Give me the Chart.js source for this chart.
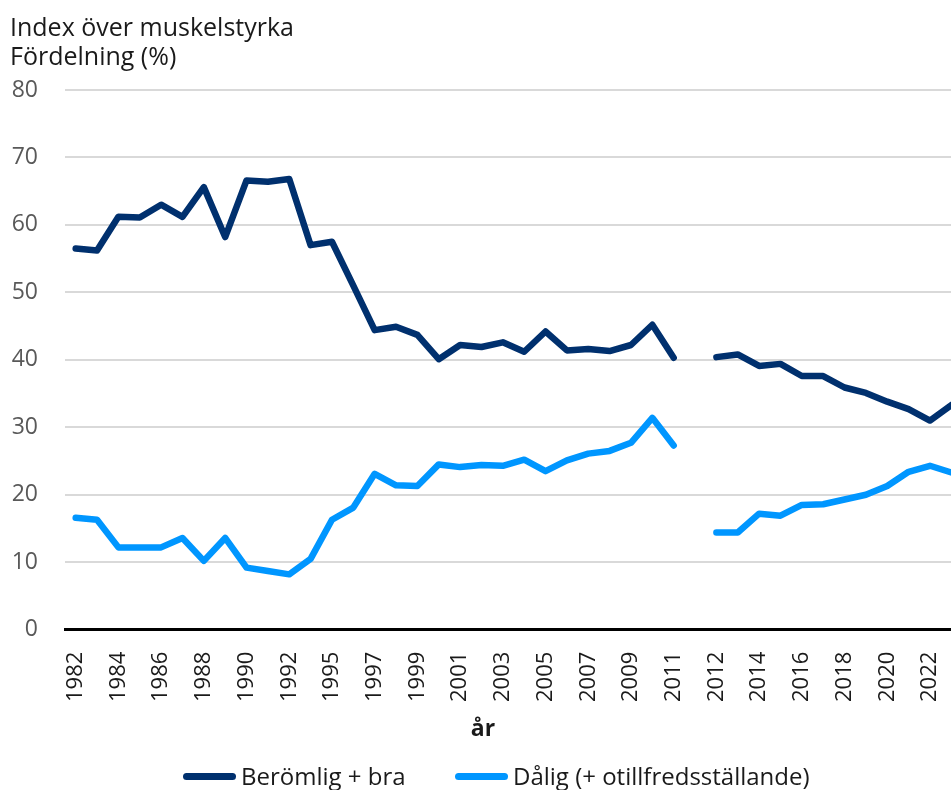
<!DOCTYPE html>
<html>
<head>
<meta charset="utf-8">
<script src="https://cdn.jsdelivr.net/npm/chart.js@4"></script>
<style>
  html, body { margin: 0; padding: 0; width: 951px; height: 790px; overflow: hidden; background: #fff; }
  body { font-family: "Open Sans", sans-serif; position: relative; }
  .title { position: absolute; left: 10px; top: 12px; font-size: 25px; line-height: 29px; color: #1a1a1a; }
  .chart-box { position: absolute; left: 0; top: 0; width: 962px; height: 790px; }
  .x-title { position: absolute; left: 0; width: 966px; top: 711px; text-align: center; font-size: 23px; font-weight: bold; color: #1a1a1a; }
  .legend-item { position: absolute; top: 759px; font-size: 24px; color: #1a1a1a; white-space: nowrap; }
  .swatch { display: inline-block; width: 53px; height: 7px; border-radius: 4px; vertical-align: middle; margin-right: 5px; position: relative; top: -2px; }
</style>
</head>
<body>
<div class="chart-box"><canvas id="lineChart"></canvas></div>
<div class="title">Index över muskelstyrka<br>Fördelning (%)</div>
<div class="x-title">år</div>
<div class="legend-item" style="left:183px"><span class="swatch" style="background:#00306E"></span>Berömlig + bra</div>
<div class="legend-item" style="left:455px"><span class="swatch" style="background:#0096FF"></span>Dålig (+ otillfredsställande)</div>
<script>
// years; the empty label is the break between the two survey series
const years = ['1982', '1983', '1984', '1985', '1986', '1987', '1988', '1989', '1990', '1991', '1992', '1994',
    '1995', '1996', '1997', '1998', '1999', '2000', '2001', '2002', '2003', '2004', '2005', '2006', '2007',
    '2008', '2009', '2010', '2011', '', '2012', '2013', '2014', '2015', '2016', '2017', '2018', '2019',
    '2020', '2021', '2022', '2023'];

const goodValues = [56.5, 56.2, 61.2, 61.1, 63.0, 61.2, 65.6, 58.2, 66.6, 66.4, 66.8, 57.0,
    57.5, 51.0, 44.4, 44.9, 43.7, 40.1, 42.2, 41.9, 42.6, 41.2, 44.2, 41.4, 41.6,
    41.3, 42.2, 45.2, 40.3, null, 40.4, 40.8, 39.1, 39.4, 37.6, 37.6, 35.9, 35.1,
    33.8, 32.7, 31.0, 33.3];

const poorValues = [16.6, 16.3, 12.2, 12.2, 12.2, 13.6, 10.2, 13.6, 9.2, 8.7, 8.2, 10.5,
    16.3, 18.1, 23.1, 21.4, 21.3, 24.5, 24.1, 24.4, 24.3, 25.2, 23.5, 25.1, 26.1,
    26.5, 27.7, 31.4, 27.3, null, 14.4, 14.4, 17.2, 16.9, 18.5, 18.6, 19.3, 20.0,
    21.3, 23.4, 24.3, 23.3];

const yTicks = [0, 10, 20, 30, 40, 50, 60, 70, 80];

const ctx = document.getElementById('lineChart').getContext('2d');
const lineChart = new Chart(ctx, {
    type: 'line',
    data: {
        labels: years,
        datasets: [
            { label: 'Berömlig + bra', data: goodValues, borderColor: '#00306E', borderWidth: 6.5, fill: false },
            { label: 'Dålig (+ otillfredsställande)', data: poorValues, borderColor: '#0096FF', borderWidth: 6.5, fill: false }
        ]
    },
    options: {
        responsive: true,
        maintainAspectRatio: false,
        animation: false,
        spanGaps: false,
        elements: {
            line: { tension: 0, borderCapStyle: 'round', borderJoinStyle: 'round' },
            point: { radius: 0, hoverRadius: 0 }
        },
        layout: { padding: { top: 90, bottom: 66, left: 0, right: 0 } },
        plugins: { legend: { display: false }, tooltip: { enabled: false } },
        scales: {
            x: {
                offset: true,
                afterFit: function (scale) {
                    scale.paddingLeft = 0;
                    scale.paddingRight = 0;
                },
                grid: { display: false, drawTicks: false },
                border: { display: true, color: '#000', width: 3 },
                ticks: {
                    autoSkip: false,
                    minRotation: 90,
                    maxRotation: 90,
                    padding: 22,
                    color: '#1a1a1a',
                    font: { family: 'Open Sans', size: 22 },
                    callback: function (value, index) {
                        return index % 2 === 0 ? years[index] : '';
                    }
                }
            },
            y: {
                min: 0,
                max: 80,
                afterBuildTicks: function (scale) {
                    scale.ticks = yTicks.map(v => ({ value: v }));
                },
                afterFit: function (scale) {
                    scale.width = 65;
                },
                grid: { color: '#d9d9d9', lineWidth: 2, drawTicks: false },
                border: { display: false },
                ticks: {
                    padding: 27,
                    color: '#595959',
                    font: { family: 'Open Sans', size: 23 }
                }
            }
        }
    }
});
</script>
</body>
</html>
